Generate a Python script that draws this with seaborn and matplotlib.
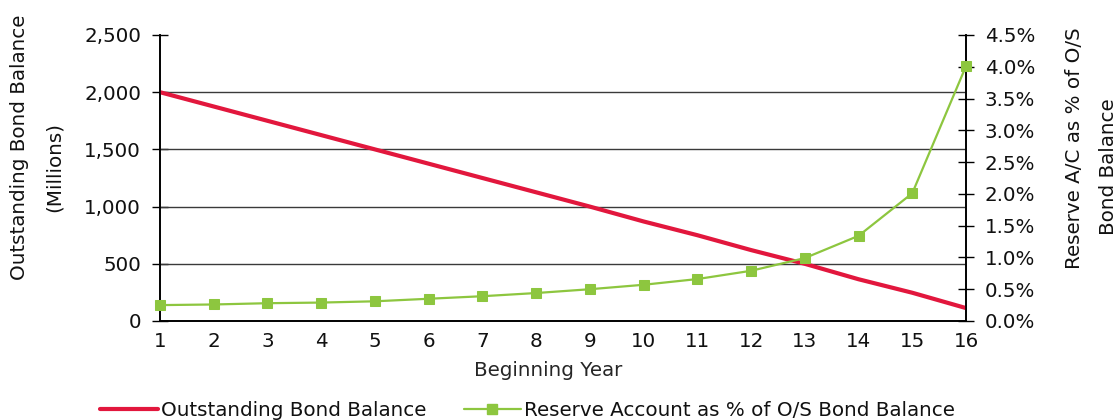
import matplotlib
matplotlib.use("Agg")
import matplotlib.pyplot as plt
import matplotlib.ticker as mticker
from matplotlib.lines import Line2D
import seaborn as sns
import pandas as pd

# Series values
years = list(range(1, 17))
bond_balance = [2000, 1875, 1750, 1625, 1500, 1375, 1250, 1125, 1000, 870, 750, 620, 500, 365, 247, 113]
reserve_pct = [0.25, 0.26, 0.28, 0.29, 0.31, 0.35, 0.39, 0.44, 0.50, 0.57, 0.66, 0.79, 0.99, 1.34, 2.01, 4.01]

left_ticks = [0, 500, 1000, 1500, 2000, 2500]
right_ticks = [0.0, 0.5, 1.0, 1.5, 2.0, 2.5, 3.0, 3.5, 4.0, 4.5]

RED = "#E2173D"
GREEN = "#8DC63F"
INK = "#111111"
FS = 14.3

sns.set_theme(style="white")
plt.rcParams["font.family"] = ["DejaVu Sans"]
plt.rcParams["text.color"] = INK

df = pd.DataFrame({"year": years, "balance": bond_balance, "reserve": reserve_pct})

W, H = 1117, 420
fig = plt.figure(figsize=(W / 100, H / 100), dpi=100)
ax = fig.add_axes([160 / W, 1 - 321 / H, 806 / W, 286 / H])
ax2 = ax.twinx()

sns.lineplot(data=df, x="year", y="balance", ax=ax, color=RED, linewidth=3.0, zorder=3)
sns.lineplot(data=df, x="year", y="reserve", ax=ax2, color=GREEN, linewidth=1.6,
             marker="s", markersize=7, markeredgecolor=GREEN, zorder=4, clip_on=False)

# Left axis: bond balance
ax.set_xlim(1, 16)
ax.set_ylim(0, 2500)
ax.set_xticks(years)
ax.set_yticks(left_ticks)
ax.yaxis.set_major_formatter(mticker.FuncFormatter(lambda v, p: f"{int(v):,}"))
for v in left_ticks[1:-1]:
    ax.axhline(v, color="#3a3a3a", linewidth=1.0, zorder=1)

# Right axis: reserve percentage
ax2.set_ylim(0, 4.5)
ax2.set_yticks(right_ticks)
ax2.yaxis.set_major_formatter(mticker.FuncFormatter(lambda v, p: f"{v:.1f}%"))

for a in (ax, ax2):
    a.spines["top"].set_visible(False)
    for s in ("left", "right", "bottom"):
        a.spines[s].set_color("black")
        a.spines[s].set_linewidth(1.2)
    a.tick_params(axis="both", which="major", labelsize=FS, colors="black",
                  labelcolor=INK, width=1.0)
    a.set_xlabel("")
    a.set_ylabel("")

ax.tick_params(axis="y", direction="inout", length=11, pad=8)
ax2.tick_params(axis="y", direction="inout", length=11, pad=8)
ax.tick_params(axis="x", direction="out", length=5, pad=3)

ax.set_xlabel("Beginning Year", fontsize=FS)
ax.xaxis.set_label_coords(388 / 806, -50 / 286)
ax.xaxis.label.set_va("center")

# Axis titles
fig.text(20 / W, 1 - 147 / H, "Outstanding Bond Balance", rotation=90,
         ha="center", va="center", fontsize=FS)
fig.text(54 / W, 1 - 167 / H, "(Millions)", rotation=90,
         ha="center", va="center", fontsize=FS)
fig.text(1074 / W, 1 - 148 / H, "Reserve A/C as % of O/S", rotation=90,
         ha="center", va="center", fontsize=FS)
fig.text(1109 / W, 1 - 167 / H, "Bond Balance", rotation=90,
         ha="center", va="center", fontsize=FS)

handles = [
    Line2D([], [], color=RED, linewidth=3.0),
    Line2D([], [], color=GREEN, linewidth=1.6, marker="s", markersize=7),
]
labels = ["Outstanding Bond Balance", "Reserve Account as % of O/S Bond Balance"]
fig.legend(handles, labels, loc="center left", bbox_to_anchor=(100 / W, 1 - 410 / H),
           ncol=2, frameon=False, fontsize=FS, handlelength=2.9,
           handletextpad=0.15, columnspacing=1.9, borderpad=0, borderaxespad=0)

fig.savefig("out.png", dpi=100)
